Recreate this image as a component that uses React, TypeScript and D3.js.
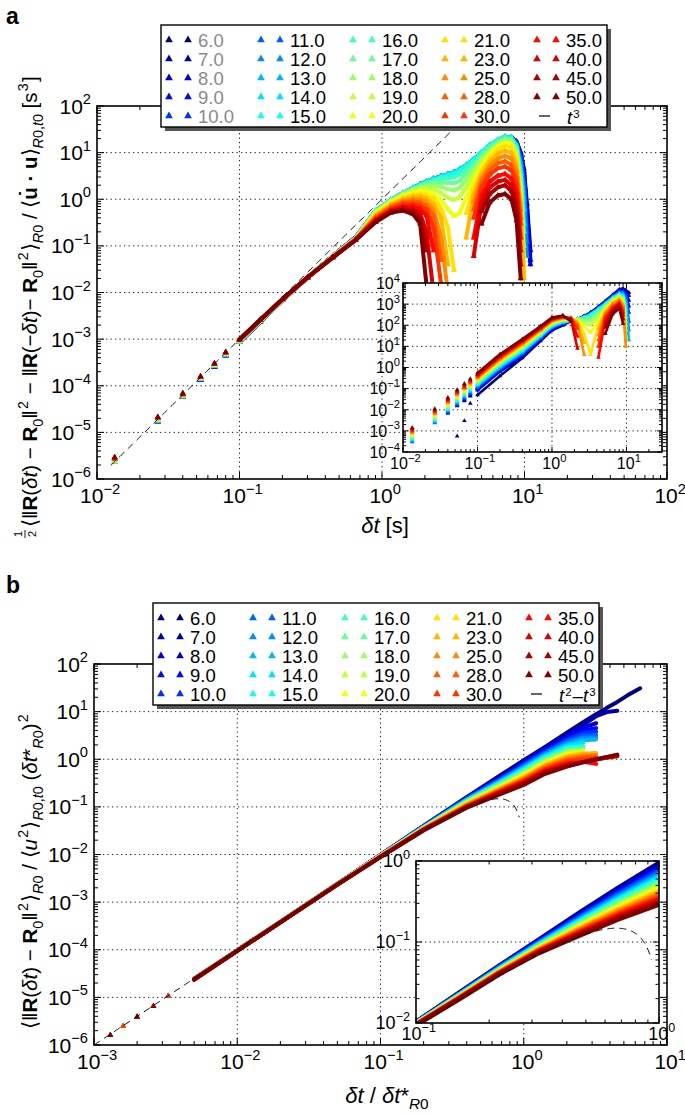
import React from "react";
import * as d3 from "d3";

const FONT = "'Liberation Sans', Arial, Helvetica, sans-serif";
const N = null;
type Row = (number | null)[];

// ---------------- series (R0 values) ----------------
const SERIES = [6, 7, 8, 9, 10, 11, 12, 13, 14, 15, 16, 17, 18, 19, 20, 21, 23, 25, 28, 30, 35, 40, 45, 50];

const clamp01 = (v: number) => Math.max(0, Math.min(1, v));
function jet(t: number) {
  const r = clamp01(1.5 - Math.abs(4 * t - 3));
  const g = clamp01(1.5 - Math.abs(4 * t - 2));
  const b = clamp01(1.5 - Math.abs(4 * t - 1));
  return d3.rgb(r * 255, g * 255, b * 255).formatHex();
}
const COLORS = SERIES.map((_, i) => jet(i / (SERIES.length - 1)));

// ---------------- panel a, main: delta t [s] ----------------
const XA = [0.0133, 0.0267, 0.04, 0.0533, 0.0667, 0.08, 0.1, 0.14, 0.2, 0.3, 0.45, 0.65,
  0.9, 1.15, 1.4, 1.65, 1.85, 2.05, 2.3, 2.6, 2.9, 3.2, 3.5, 3.9, 4.4, 5.0, 5.7, 6.5, 7.3, 8.1, 8.8, 9.4, 9.9, 10.4, 11.0];
const A_EARLY_B = [N, 1.72e-5, 5.7e-5, 1.33e-4, 2.55e-4, 4.45e-4, 8.6e-4, 2.38e-3, 6.8e-3, 0.021, 0.06, 0.15];
const A_EARLY_C = [2.3e-6, 1.78e-5, 5.9e-5, 1.38e-4, 2.65e-4, 4.6e-4, 8.8e-4, 2.42e-3, 6.9e-3, 0.021, 0.059, 0.148];
const A_EARLY_G = [2.5e-6, 1.88e-5, 6.2e-5, 1.45e-4, 2.8e-4, 4.8e-4, 9.2e-4, 2.5e-3, 7.0e-3, 0.021, 0.058, 0.142];
const A_EARLY_O = [2.7e-6, 2.0e-5, 6.5e-5, 1.52e-4, 2.9e-4, 5.0e-4, 9.5e-4, 2.55e-3, 7.1e-3, 0.021, 0.057, 0.137];
const A_EARLY_R = [2.9e-6, 2.1e-5, 6.8e-5, 1.58e-4, 3.0e-4, 5.2e-4, 9.8e-4, 2.6e-3, 7.2e-3, 0.021, 0.056, 0.132];
const A_MAIN: Row[] = [
  [...A_EARLY_B, 0.54, 0.94, 1.3, 1.7, 2.0, 2.3, 2.65, 3.0, 3.3, 3.6, 4.1, 5.1, 6.8, 9.5, 13, 17, 20, 21, 17, 10, 4, 0.6, 0.05], // 6
  [...A_EARLY_B, 0.54, 0.94, 1.3, 1.7, 2.0, 2.3, 2.65, 3.0, 3.3, 3.6, 4.1, 5.1, 6.8, 9.5, 13, 17, 20, 21, 17, 10, 4.5, 0.8, 0.08], // 7
  [...A_EARLY_B, 0.54, 0.94, 1.32, 1.72, 2.0, 2.32, 2.7, 3.05, 3.35, 3.65, 4.2, 5.2, 6.9, 9.6, 13.5, 17.5, 20.5, 21, 16, 9, 3.5, 0.5, 0.04], // 8
  [...A_EARLY_B, 0.55, 0.95, 1.33, 1.73, 2.05, 2.35, 2.7, 3.05, 3.4, 3.7, 4.2, 5.2, 7.0, 9.8, 13.5, 17.5, 21, 21, 16, 9, 3, 0.3, N], // 9
  [...A_EARLY_B, 0.55, 0.95, 1.34, 1.74, 2.05, 2.35, 2.72, 3.08, 3.4, 3.7, 4.25, 5.3, 7.0, 10, 14, 18, 21, 21, 16, 8, 2.5, 0.2, N], // 10
  [...A_EARLY_C, 0.55, 0.96, 1.35, 1.75, 2.06, 2.37, 2.74, 3.1, 3.42, 3.75, 4.3, 5.3, 7.1, 10, 14, 18, 21.5, 21, 15, 7, 2, 0.12, N], // 11
  [...A_EARLY_C, 0.56, 0.96, 1.35, 1.75, 2.07, 2.38, 2.75, 3.1, 3.45, 3.78, 4.3, 5.35, 7.1, 10, 14, 18.5, 22, 21, 15, 6, 1.5, 0.06, N], // 12
  [...A_EARLY_C, 0.56, 0.96, 1.35, 1.75, 2.07, 2.38, 2.75, 3.1, 3.45, 3.8, 4.3, 5.4, 7.2, 10, 14.5, 18.5, 22, 21, 14, 5, 1, N, N], // 13
  [...A_EARLY_C, 0.56, 0.96, 1.35, 1.74, 2.05, 2.35, 2.7, 3.05, 3.4, 3.75, 4.3, 5.4, 7.2, 10.2, 14.5, 19, 22, 21, 14, 4, 0.6, N, N], // 14
  [...A_EARLY_C, 0.56, 0.95, 1.34, 1.72, 2.0, 2.28, 2.6, 2.95, 3.25, 3.5, 4.0, 5.1, 6.9, 10, 14, 18.5, 21.5, 20, 13, 3.5, 0.3, N, N], // 15
  [...A_EARLY_G, 0.55, 0.94, 1.32, 1.68, 1.95, 2.2, 2.45, 2.7, 2.85, 2.95, 3.4, 4.4, 6.2, 9.2, 13, 17.5, 20.5, 19, 12, 3, 0.2, N, N], // 16
  [...A_EARLY_G, 0.54, 0.93, 1.3, 1.64, 1.88, 2.08, 2.25, 2.3, 2.25, 2.2, 2.5, 3.5, 5.2, 8.2, 12, 16.5, 19.5, 18, 11, 2.5, 0.1, N, N], // 17
  [...A_EARLY_G, 0.53, 0.91, 1.27, 1.58, 1.78, 1.92, 1.97, 1.85, 1.65, 1.55, 1.75, 2.6, 4.2, 7.2, 11, 15.5, 18.5, 17, 10, 2, 0.06, N, N], // 18
  [...A_EARLY_G, 0.52, 0.89, 1.23, 1.5, 1.64, 1.72, 1.65, 1.35, 1.08, 0.97, 1.1, 1.8, 3.3, 6.2, 10, 14.5, 17.5, 16, 9, 1.6, 0.04, N, N], // 19
  [...A_EARLY_G, 0.5, 0.86, 1.18, 1.4, 1.48, 1.47, 1.3, 0.95, 0.62, 0.43, 0.5, 1.1, 2.5, 5, 9, 13, 16, 15, 8, 1.2, 0.03, N, N], // 20
  [...A_EARLY_G, 0.47, 0.8, 1.08, 1.25, 1.3, 1.25, 1.05, 0.65, 0.25, 0.03, N, 0.5, 1.8, 4.2, 7.8, 11.5, 14, 13, 7, 1, 0.02, N, N], // 21
  [...A_EARLY_O, 0.45, 0.76, 1.0, 1.13, 1.15, 1.05, 0.8, 0.4, 0.04, N, N, 0.15, 1.3, 3.5, 6.5, 9.5, 11, 10, 5.5, 0.8, 0.02, N, N], // 23
  [...A_EARLY_O, 0.42, 0.7, 0.92, 1.0, 0.98, 0.87, 0.6, 0.15, 0.01, N, N, N, 0.9, 2.8, 5.2, 7.5, 8.5, 7.5, 4, 0.6, N, N, N], // 25
  [...A_EARLY_O, 0.4, 0.66, 0.85, 0.9, 0.85, 0.72, 0.45, 0.05, N, N, N, N, 0.6, 2.3, 4.3, 6, 6.5, 5.5, 3, 0.4, N, N, N], // 28
  [...A_EARLY_O, 0.38, 0.62, 0.78, 0.8, 0.74, 0.6, 0.25, 0.015, N, N, N, N, 0.4, 1.8, 3.4, 4.6, 5, 4.2, 2.2, 0.3, N, N, N], // 30
  [...A_EARLY_R, 0.36, 0.58, 0.7, 0.7, 0.62, 0.45, 0.08, N, N, N, N, N, 0.15, 1.2, 2.4, 3.2, 3.5, 2.8, 1.4, 0.15, N, N, N], // 35
  [...A_EARLY_R, 0.34, 0.55, 0.64, 0.6, 0.5, 0.2, 0.01, N, N, N, N, N, 0.06, 0.85, 1.8, 2.4, 2.6, 2.0, 0.9, 0.08, N, N, N], // 40
  [...A_EARLY_R, 0.33, 0.53, 0.6, 0.54, 0.38, 0.08, N, N, N, N, N, N, N, 0.55, 1.3, 1.8, 2.0, 1.5, 0.6, 0.04, N, N, N], // 45
  [...A_EARLY_R, 0.32, 0.51, 0.57, 0.48, 0.3, 0.015, N, N, N, N, N, N, N, 0.3, 0.85, 1.2, 1.3, 1.0, 0.35, 0.02, N, N, N], // 50
];

// ---------------- panel a, inset ----------------
const XI = [0.0133, 0.0267, 0.04, 0.0533, 0.0667, 0.08, 0.1, 0.2, 0.4, 0.7, 1.0, 1.4,
  1.8, 2.2, 2.7, 3.3, 4.2, 5.2, 6.5, 8.0, 9.0, 9.8, 10.8];
const A_INSET: Row[] = [
  [N, N, N, 5.6e-4, 3e-3, 0.02, 0.05, 0.4, 2.8, 18, 58, 100, 160, 195, 270, 400, 750, 1400, 2700, 5000, 5500, 4500, 3500], // 6
  [N, N, N, N, 0.026, 0.044, 0.084, 0.64, 3.4, 20, 62, 105, 160, 195, 265, 390, 720, 1350, 2600, 4600, 5000, 4000, 2500], // 7
  [N, N, N, 0.015, 0.028, 0.048, 0.092, 0.70, 3.7, 21, 65, 110, 160, 195, 260, 380, 700, 1300, 2500, 4300, 4600, 3500, 1500], // 8
  [N, N, 6.7e-3, 0.016, 0.031, 0.053, 0.10, 0.76, 4.0, 23, 69, 115, 161, 196, 255, 370, 680, 1250, 2400, 4000, 4200, 3000, 800], // 9
  [N, N, 7.3e-3, 0.017, 0.034, 0.057, 0.109, 0.83, 4.4, 24, 74, 121, 162, 196, 250, 360, 660, 1200, 2300, 3800, 3800, 2500, 400], // 10
  [3.0e-4, 2.4e-3, 8.0e-3, 0.019, 0.037, 0.062, 0.118, 0.90, 4.7, 26, 78, 127, 163, 197, 245, 350, 640, 1150, 2200, 3600, 3500, 2000, 150], // 11
  [3.3e-4, 2.6e-3, 8.7e-3, 0.021, 0.040, 0.068, 0.129, 0.98, 5.1, 28, 83, 133, 164, 198, 240, 340, 620, 1100, 2100, 3400, 3200, 1600, 60], // 12
  [3.6e-4, 2.8e-3, 9.4e-3, 0.022, 0.043, 0.074, 0.14, 1.07, 5.6, 30, 88, 139, 165, 199, 238, 330, 600, 1050, 2000, 3200, 2900, 1200, 20], // 13
  [3.9e-4, 3.1e-3, 0.010, 0.024, 0.047, 0.081, 0.153, 1.17, 6.1, 32, 94, 145, 166, 200, 235, 320, 580, 1000, 1950, 3000, 2600, 900, N], // 14
  [4.2e-4, 3.3e-3, 0.011, 0.027, 0.052, 0.088, 0.167, 1.27, 6.7, 34, 99, 152, 168, 200, 230, 305, 550, 960, 1850, 2900, 2300, 600, N], // 15
  [4.6e-4, 3.6e-3, 0.012, 0.029, 0.056, 0.096, 0.18, 1.39, 7.3, 37, 106, 160, 172, 198, 215, 270, 480, 880, 1750, 2700, 2100, 400, N], // 16
  [5.0e-4, 4.0e-3, 0.013, 0.032, 0.061, 0.104, 0.20, 1.5, 7.9, 39, 112, 167, 178, 195, 190, 220, 400, 800, 1650, 2550, 1900, 250, N], // 17
  [5.5e-4, 4.3e-3, 0.0145, 0.034, 0.066, 0.113, 0.215, 1.64, 8.6, 42, 119, 175, 185, 188, 160, 160, 320, 720, 1550, 2400, 1700, 150, N], // 18
  [6.0e-4, 4.7e-3, 0.016, 0.037, 0.072, 0.124, 0.23, 1.8, 9.4, 45, 126, 183, 192, 180, 125, 100, 240, 640, 1450, 2250, 1500, 100, N], // 19
  [6.5e-4, 5.1e-3, 0.017, 0.041, 0.079, 0.135, 0.26, 1.95, 10.2, 48, 134, 192, 200, 170, 85, 45, 160, 560, 1350, 2100, 1300, 60, N], // 20
  [7.1e-4, 5.6e-3, 0.019, 0.045, 0.086, 0.147, 0.28, 2.1, 11.1, 52, 142, 200, 210, 155, 40, 4, 110, 500, 1250, 1950, 1100, 30, N], // 21
  [7.7e-4, 6.1e-3, 0.020, 0.048, 0.094, 0.16, 0.30, 2.3, 12.1, 56, 151, 210, 218, 140, 15, N, 70, 430, 1100, 1750, 950, 20, N], // 23
  [8.4e-4, 6.6e-3, 0.022, 0.053, 0.10, 0.174, 0.33, 2.5, 13.2, 59, 160, 220, 222, 120, 4, N, 35, 360, 950, 1550, 800, 10, N], // 25
  [9.1e-4, 7.2e-3, 0.024, 0.057, 0.11, 0.19, 0.36, 2.7, 14.4, 64, 170, 230, 220, 95, N, N, 20, 300, 820, 1350, 650, N, N], // 28
  [1.0e-3, 7.8e-3, 0.026, 0.063, 0.12, 0.21, 0.39, 3.0, 15.6, 68, 181, 241, 215, 70, N, N, 10, 250, 700, 1150, 520, N, N], // 30
  [1.08e-3, 8.5e-3, 0.029, 0.068, 0.13, 0.22, 0.43, 3.3, 17, 73, 192, 253, 205, 30, N, N, 3, 180, 620, 1100, 400, N, N], // 35
  [1.2e-3, 9.3e-3, 0.031, 0.074, 0.143, 0.24, 0.46, 3.5, 18.5, 78, 204, 265, 190, 8, N, N, N, 130, 520, 950, 300, N, N], // 40
  [1.3e-3, 0.010, 0.034, 0.081, 0.156, 0.27, 0.50, 3.9, 20, 84, 217, 277, 175, N, N, N, N, 80, 420, 800, 200, N, N], // 45
  [1.4e-3, 0.011, 0.037, 0.088, 0.17, 0.29, 0.55, 4.2, 22, 90, 230, 290, 150, N, N, N, N, 40, 330, 620, 120, N, N], // 50
];

// ---------------- panel b, main: delta t / delta t*_R0 ----------------
const XB = [0.0013, 0.0016, 0.002, 0.0026, 0.0033, 0.005, 0.01, 0.02, 0.05,
  0.1, 0.2, 0.4, 0.7, 1.0, 1.4, 2.0, 2.6, 3.2, 3.8, 4.5, 5.3, 6.5];
const B_EARLY_B = [N, N, N, N, 1.07e-5, 2.45e-5, 9.7e-5, 3.85e-4, 2.42e-3];
const B_EARLY_C = [N, 2.5e-6, N, N, 1.06e-5, 2.42e-5, 9.6e-5, 3.8e-4, 2.4e-3];
const B_EARLY_G = [N, N, 3.9e-6, N, N, 2.4e-5, 9.6e-5, 3.8e-4, 2.38e-3];
const B_EARLY_O = [N, 2.5e-6, N, 6.6e-6, 1.05e-5, 2.4e-5, 9.6e-5, 3.8e-4, 2.37e-3];
const B_EARLY_R = [1.62e-6, N, 3.9e-6, 6.5e-6, N, 2.37e-5, 9.5e-5, 3.75e-4, 2.33e-3];
const B_MAIN: Row[] = [
  [...B_EARLY_B, 0.0098, 0.040, 0.16, 0.48, 0.95, 1.8, 3.6, 6.0, 8.8, 12, 16, 22, 31], // 6
  [...B_EARLY_B, 0.0098, 0.040, 0.158, 0.45, 0.90, 1.7, 3.3, 5.3, 8.0, 9.8, 10.4, N, N], // 7
  [...B_EARLY_B, 0.0097, 0.039, 0.155, 0.43, 0.857, 1.6, 3.0, 4.6, 5.7, N, N, N, N], // 8
  [...B_EARLY_B, 0.0097, 0.039, 0.152, 0.418, 0.814, 1.5, 2.8, 4.0, 4.5, N, N, N, N], // 9
  [...B_EARLY_B, 0.0097, 0.039, 0.149, 0.40, 0.773, 1.42, 2.6, 3.5, 3.8, N, N, N, N], // 10
  [...B_EARLY_C, 0.0096, 0.038, 0.146, 0.386, 0.734, 1.35, 2.4, 3.1, 3.25, N, N, N, N], // 11
  [...B_EARLY_C, 0.0096, 0.038, 0.143, 0.371, 0.698, 1.28, 2.2, 2.8, 2.9, N, N, N, N], // 12
  [...B_EARLY_C, 0.0096, 0.038, 0.14, 0.357, 0.662, 1.21, 2.05, 2.5, 2.6, N, N, N, N], // 13
  [...B_EARLY_C, 0.0095, 0.037, 0.137, 0.343, 0.629, 1.14, 1.9, 2.25, N, N, N, N, N], // 14
  [...B_EARLY_C, 0.0095, 0.037, 0.134, 0.33, 0.598, 1.07, 1.75, 1.9, N, N, N, N, N], // 15
  [...B_EARLY_G, 0.0095, 0.037, 0.131, 0.317, 0.567, 1.01, 1.62, 1.75, N, N, N, N, N], // 16
  [...B_EARLY_G, 0.0094, 0.036, 0.128, 0.305, 0.539, 0.96, 1.52, 1.65, N, N, N, N, N], // 17
  [...B_EARLY_G, 0.0094, 0.036, 0.125, 0.293, 0.512, 0.91, 1.43, 1.58, N, N, N, N, N], // 18
  [...B_EARLY_G, 0.0093, 0.036, 0.122, 0.281, 0.486, 0.86, 1.35, 1.5, N, N, N, N, N], // 19
  [...B_EARLY_G, 0.0093, 0.035, 0.119, 0.271, 0.461, 0.82, 1.27, 1.45, N, N, N, N, N], // 20
  [...B_EARLY_G, 0.0092, 0.035, 0.116, 0.26, 0.439, 0.78, 1.2, 1.38, N, N, N, N, N], // 21
  [...B_EARLY_O, 0.0092, 0.035, 0.113, 0.25, 0.416, 0.74, 1.13, 1.3, 1.35, N, N, N, N], // 23
  [...B_EARLY_O, 0.0091, 0.034, 0.11, 0.24, 0.395, 0.70, 1.05, 1.2, 1.25, N, N, N, N], // 25
  [...B_EARLY_O, 0.0091, 0.034, 0.107, 0.231, 0.375, 0.66, 0.98, 1.1, 1.15, N, N, N, N], // 28
  [...B_EARLY_O, 0.009, 0.034, 0.104, 0.222, 0.357, 0.62, 0.9, 1.0, 1.05, N, N, N, N], // 30
  [...B_EARLY_R, 0.009, 0.033, 0.102, 0.214, 0.338, 0.58, 0.82, 0.88, 0.8, N, N, N, N], // 35
  [...B_EARLY_R, 0.0089, 0.033, 0.1, 0.205, 0.322, 0.55, 0.76, 0.88, 0.98, 1.08, 1.15, N, N], // 40
  [...B_EARLY_R, 0.0089, 0.033, 0.098, 0.197, 0.305, 0.52, 0.72, 0.87, 1.0, 1.1, 1.2, N, N], // 45
  [...B_EARLY_R, 0.0088, 0.032, 0.096, 0.19, 0.29, 0.49, 0.7, 0.86, 1.0, 1.12, 1.25, N, N], // 50
];

// ---------------- panel b, inset ----------------
const XBI = [0.1, 0.15, 0.22, 0.32, 0.47, 0.68, 1.0];
const B_INSET: Row[] = [
  [0.0103, 0.0235, 0.051, 0.107, 0.23, 0.47, 0.95], // 6
  [0.0103, 0.0233, 0.0505, 0.1052, 0.2236, 0.452, 0.90], // 7
  [0.0102, 0.0231, 0.050, 0.1035, 0.2174, 0.434, 0.857], // 8
  [0.0102, 0.0229, 0.0494, 0.1018, 0.2114, 0.418, 0.814], // 9
  [0.0101, 0.0228, 0.0489, 0.1001, 0.2055, 0.401, 0.773], // 10
  [0.0101, 0.0226, 0.0484, 0.0985, 0.1997, 0.386, 0.734], // 11
  [0.0101, 0.0224, 0.0479, 0.0968, 0.1942, 0.371, 0.698], // 12
  [0.0100, 0.0222, 0.0474, 0.0952, 0.1887, 0.357, 0.662], // 13
  [0.0100, 0.0221, 0.0469, 0.0937, 0.1834, 0.343, 0.629], // 14
  [0.0099, 0.0219, 0.0464, 0.0921, 0.1783, 0.330, 0.598], // 15
  [0.0099, 0.0217, 0.0459, 0.0906, 0.1733, 0.317, 0.567], // 16
  [0.0099, 0.0215, 0.0454, 0.0891, 0.1685, 0.305, 0.539], // 17
  [0.0098, 0.0214, 0.0449, 0.0876, 0.1638, 0.293, 0.512], // 18
  [0.0098, 0.0212, 0.0444, 0.0862, 0.1592, 0.281, 0.486], // 19
  [0.0098, 0.0210, 0.0439, 0.0848, 0.1548, 0.271, 0.461], // 20
  [0.0097, 0.0209, 0.0435, 0.0834, 0.1505, 0.260, 0.439], // 21
  [0.0097, 0.0207, 0.0430, 0.0820, 0.1463, 0.250, 0.416], // 23
  [0.0096, 0.0205, 0.0426, 0.0807, 0.1422, 0.240, 0.395], // 25
  [0.0096, 0.0204, 0.0421, 0.0793, 0.1382, 0.231, 0.375], // 28
  [0.0096, 0.0202, 0.0417, 0.0780, 0.1343, 0.222, 0.357], // 30
  [0.0095, 0.0200, 0.0413, 0.0768, 0.1306, 0.214, 0.338], // 35
  [0.0095, 0.0199, 0.0408, 0.0755, 0.1269, 0.205, 0.322], // 40
  [0.0094, 0.0197, 0.0404, 0.0742, 0.1234, 0.197, 0.305], // 45
  [0.0094, 0.0195, 0.0400, 0.0730, 0.1200, 0.190, 0.290], // 50
];

// ---------------- helpers ----------------
function logTicks(domain: [number, number]) {
  const [a, b] = domain;
  const majors: number[] = [];
  const minors: number[] = [];
  for (let k = Math.floor(Math.log10(a)); k <= Math.ceil(Math.log10(b)); k++) {
    for (let m = 1; m <= 9; m++) {
      const v = m * Math.pow(10, k);
      if (v < a * 0.9999 || v > b * 1.0001) continue;
      (m === 1 ? majors : minors).push(v);
    }
  }
  return { majors, minors };
}

function Pow({ x, y, v, size, anchor }: any) {
  const e = Math.round(Math.log10(v));
  return (
    <text x={x} y={y} fontSize={size} textAnchor={anchor} fill="#000">
      10<tspan dy={-size * 0.45} fontSize={size * 0.7}>{e < 0 ? "\u2212" + -e : String(e)}</tspan>
    </text>
  );
}

type Seg = { t: string; b?: boolean; i?: boolean; s?: "sub" | "sup" };
function Rich({ segs, size, supRaise = 0.42, supScale = 0.7 }: { segs: Seg[]; size: number; supRaise?: number; supScale?: number }) {
  let shift = 0;
  let prevSup = false;
  return (
    <>
      {segs.map((sg, k) => {
        const target = sg.s === "sub" ? size * 0.28 : sg.s === "sup" ? -size * supRaise : 0;
        const dy = target - shift;
        shift = target;
        const dx = sg.s === "sup" || prevSup ? size * 0.06 : 0;
        prevSup = sg.s === "sup";
        return (
          <tspan key={k} dy={dy} dx={dx} fontSize={sg.s === "sup" ? size * supScale : sg.s ? size * 0.7 : size}
            fontWeight={sg.b ? "bold" : "normal"} fontStyle={sg.i ? "italic" : "normal"}>{sg.t}</tspan>
        );
      })}
    </>
  );
}

function Plot(p: any) {
  const sx = d3.scaleLog().domain(p.xDomain).range([p.left, p.right]);
  const sy = d3.scaleLog().domain(p.yDomain).range([p.bottom, p.top]);
  const xt = logTicks(p.xDomain);
  const yt = logTicks(p.yDomain);
  const tri = d3.symbol(d3.symbolTriangle, p.markerSize)() as string;
  const line = d3.line<[number, number | null]>()
    .defined((d) => d[1] != null)
    .x((d) => sx(d[0]))
    .y((d) => sy(d[1] as number));
  const refLine = d3.line<[number, number]>().x((d) => sx(d[0])).y((d) => sy(d[1]));
  let refPts: [number, number][] = [];
  if (p.ref) {
    const { from, to, fn } = p.ref;
    refPts = d3.range(0, 401).map((k) => {
      const x = from * Math.pow(to / from, k / 400);
      return [x, fn(x)] as [number, number];
    }).filter((d) => d[1] > 0);
  }
  const clipId = "clip-" + p.id;
  const W = p.right - p.left;
  const H = p.bottom - p.top;
  const tick = (x1: number, y1: number, x2: number, y2: number, k: string) => (
    <line key={k} x1={x1} y1={y1} x2={x2} y2={y2} stroke="#000" strokeWidth={1} />
  );
  return (
    <g>
      <defs>
        <clipPath id={clipId}><rect x={p.left} y={p.top} width={W} height={H} /></clipPath>
      </defs>
      <rect x={p.left} y={p.top} width={W} height={H} fill="#fff" />
      {/* grid */}
      <g stroke="#222" strokeWidth={1} strokeDasharray="1.3,3.2">
        {xt.majors.filter((v) => sx(v) > p.left + 1 && sx(v) < p.right - 1).map((v) => (
          <line key={"gx" + v} x1={sx(v)} x2={sx(v)} y1={p.top} y2={p.bottom} />
        ))}
        {yt.majors.filter((v) => sy(v) < p.bottom - 1 && sy(v) > p.top + 1).map((v) => (
          <line key={"gy" + v} x1={p.left} x2={p.right} y1={sy(v)} y2={sy(v)} />
        ))}
      </g>
      {/* series */}
      <g clipPath={`url(#${clipId})`}>
        {p.rows.map((row: Row, i: number) => {
          const pts = p.xs.map((x: number, j: number) => [x, row[j] ?? null]) as [number, number | null][];
          const lp = pts.filter((d) => d[0] >= p.lineFrom);
          const mp = pts.filter((d) => d[1] != null && d[0] <= p.markerUntil);
          return (
            <g key={i}>
              <path d={line(lp) || ""} fill="none" stroke={COLORS[i]} strokeWidth={p.lineWidth}
                strokeLinejoin="round" strokeLinecap="round" />
              {mp.map((d, j) => (
                <path key={j} d={tri} fill={COLORS[i]}
                  transform={`translate(${sx(d[0])},${sy(d[1] as number)})`} />
              ))}
            </g>
          );
        })}
        {p.ref && (
          <path d={refLine(refPts) || ""} fill="none" stroke="#000" strokeWidth={1}
            strokeDasharray="7,5" />
        )}
      </g>
      {/* frame */}
      <rect x={p.left} y={p.top} width={W} height={H} fill="none" stroke="#000" strokeWidth={1.6} />
      {/* ticks */}
      <g>
        {xt.majors.map((v) => [
          tick(sx(v), p.bottom, sx(v), p.bottom - p.majorLen, "xb" + v),
          tick(sx(v), p.top, sx(v), p.top + p.majorLen, "xt" + v),
        ])}
        {xt.minors.map((v) => [
          tick(sx(v), p.bottom, sx(v), p.bottom - p.minorLen, "xbm" + v),
          tick(sx(v), p.top, sx(v), p.top + p.minorLen, "xtm" + v),
        ])}
        {yt.majors.map((v) => [
          tick(p.left, sy(v), p.left + p.majorLen, sy(v), "yl" + v),
          tick(p.right, sy(v), p.right - p.majorLen, sy(v), "yr" + v),
        ])}
        {yt.minors.map((v) => [
          tick(p.left, sy(v), p.left + p.minorLen, sy(v), "ylm" + v),
          tick(p.right, sy(v), p.right - p.minorLen, sy(v), "yrm" + v),
        ])}
      </g>
      {/* tick labels */}
      <g fontFamily={FONT}>
        {xt.majors.map((v) => (
          <Pow key={"lx" + v} x={sx(v) + p.labelSize * 0.15} y={p.bottom + p.xLabelOffset} v={v} size={p.labelSize} anchor="middle" />
        ))}
        {yt.majors.map((v) => (
          <Pow key={"ly" + v} x={p.left - p.yLabelGap} y={sy(v) + p.labelSize * 0.36} v={v} size={p.labelSize} anchor="end" />
        ))}
      </g>
    </g>
  );
}

function Legend({ x, y, grayFirst, lineLabel }: any) {
  const w = 446;
  const h = 102;
  const pitch = 92;
  const tri = d3.symbol(d3.symbolTriangle, 26)() as string;
  const cyL = y + 15 + 4 * 19;
  const bxL = x + 4 * pitch;
  return (
    <g fontFamily={FONT}>
      <rect x={x + 4} y={y + 4} width={w} height={h} fill="#555" />
      <rect x={x} y={y} width={w} height={h} fill="#fff" stroke="#000" strokeWidth={1.4} />
      {SERIES.map((s, i) => {
        const col = Math.floor(i / 5);
        const row = i % 5;
        const cy = y + 15 + row * 19;
        const bx = x + col * pitch;
        return (
          <g key={s}>
            <path d={tri} fill={COLORS[i]} transform={`translate(${bx + 8},${cy})`} />
            <path d={tri} fill={COLORS[i]} transform={`translate(${bx + 27},${cy})`} />
            <text x={bx + 37} y={cy + 6.5} fontSize={18.5} fill={grayFirst && col === 0 ? "#8a8a8a" : "#000"}>
              {s.toFixed(1)}
            </text>
          </g>
        );
      })}
      <line x1={bxL + 10} x2={bxL + 21} y1={cyL} y2={cyL} stroke="#000" strokeWidth={1.2} />
      <text x={bxL + 38} y={cyL + 7.5} fontSize={18.5} fill="#000">
        <Rich segs={lineLabel} size={18.5} supRaise={0.3} supScale={0.62} />
      </text>
    </g>
  );
}

const TITLE_A: Seg[] = [
  { t: "\u27E8\u2016" }, { t: "R", b: true }, { t: "(" }, { t: "\u03B4t", i: true }, { t: ") \u2212 " },
  { t: "R", b: true }, { t: "0", s: "sub" }, { t: "\u2016" }, { t: "2", s: "sup" }, { t: " \u2212 \u2016" },
  { t: "R", b: true }, { t: "(\u2212" }, { t: "\u03B4t", i: true }, { t: ")\u2212 " },
  { t: "R", b: true }, { t: "0", s: "sub" }, { t: "\u2016" }, { t: "2", s: "sup" }, { t: "\u27E9" },
  { t: "R", i: true, s: "sub" }, { t: "0", s: "sub" }, { t: " / \u27E8" }, { t: "u\u0307 \u00B7 u", b: true },
  { t: "\u27E9" }, { t: "R", i: true, s: "sub" }, { t: "0", s: "sub" }, { t: ",", s: "sub" }, { t: "t", i: true, s: "sub" },
  { t: "0", s: "sub" }, { t: " [s" }, { t: "3", s: "sup" }, { t: "]" },
];
const TITLE_B: Seg[] = [
  { t: "\u27E8\u2016" }, { t: "R", b: true }, { t: "(" }, { t: "\u03B4t", i: true }, { t: ") \u2212 " },
  { t: "R", b: true }, { t: "0", s: "sub" }, { t: "\u2016" }, { t: "2", s: "sup" }, { t: "\u27E9" },
  { t: "R", i: true, s: "sub" }, { t: "0", s: "sub" }, { t: " / \u27E8" }, { t: "u", i: true }, { t: "2", s: "sup" },
  { t: "\u27E9" }, { t: "R", i: true, s: "sub" }, { t: "0", s: "sub" }, { t: ",", s: "sub" }, { t: "t", i: true, s: "sub" },
  { t: "0", s: "sub" }, { t: " (" }, { t: "\u03B4t", i: true }, { t: "*" }, { t: "R", i: true, s: "sub" },
  { t: "0", s: "sub" }, { t: ")" }, { t: "2", s: "sup" },
];
const XTITLE_A: Seg[] = [{ t: "\u03B4t", i: true }, { t: " [s]" }];
const XTITLE_B: Seg[] = [
  { t: "\u03B4t", i: true }, { t: " / " }, { t: "\u03B4t", i: true }, { t: "*" },
  { t: "R", i: true, s: "sub" }, { t: "0", s: "sub" },
];
const LEG_A: Seg[] = [{ t: "t", i: true }, { t: "3", s: "sup" }];
const LEG_B: Seg[] = [{ t: "t", i: true }, { t: "2", s: "sup" }, { t: "\u2013" }, { t: "t", i: true }, { t: "3", s: "sup" }];

export default function App() {
  return (
    <svg width={685} height={1117} style={{ position: "absolute", left: 0, top: 0, display: "block" }}
      fontFamily={FONT}>
      <rect width={685} height={1117} fill="#fff" />

      {/* ---------- panel a ---------- */}
      <Plot id="am" left={97} right={667} top={106} bottom={479}
        xDomain={[1e-2, 1e2]} yDomain={[1e-6, 1e2]} xs={XA} rows={A_MAIN}
        lineWidth={4} markerSize={16} lineFrom={0.09} markerUntil={Infinity}
        ref={{ from: 0.0125, to: 5, fn: (x: number) => x * x * x }}
        labelSize={21} majorLen={7} minorLen={4} xLabelOffset={24} yLabelGap={6} />
      <Plot id="ai" left={403} right={662} top={283} bottom={452}
        xDomain={[1e-2, 30]} yDomain={[1e-4, 1e4]} xs={XI} rows={A_INSET}
        lineWidth={2.6} markerSize={9} lineFrom={0.09} markerUntil={Infinity}
        labelSize={16} majorLen={5} minorLen={3} xLabelOffset={17} yLabelGap={3} />
      <Legend x={161} y={25} grayFirst={true} lineLabel={LEG_A} />
      <text x={6} y={24} fontSize={23} fontWeight="bold" fontFamily={FONT}>a</text>
      <text x={385} y={533} fontSize={22} textAnchor="middle" fontFamily={FONT}>
        <Rich segs={XTITLE_A} size={22} />
      </text>
      <g transform="translate(37,538) rotate(-90)" fontFamily={FONT}>
        <text x={4} y={-15} fontSize={11} textAnchor="middle">1</text>
        <line x1={0} x2={8} y1={-12} y2={-12} stroke="#000" strokeWidth={0.9} />
        <text x={4} y={-1} fontSize={11} textAnchor="middle">2</text>
        <text x={11} y={0} fontSize={20.5}>
          <Rich segs={TITLE_A} size={20.5} />
        </text>
      </g>

      {/* ---------- panel b ---------- */}
      <Plot id="bm" left={94} right={667} top={664} bottom={1045}
        xDomain={[1e-3, 1e1]} yDomain={[1e-6, 1e2]} xs={XB} rows={B_MAIN}
        lineWidth={4} markerSize={14} lineFrom={0.005} markerUntil={0.0045}
        ref={{ from: 1e-3, to: 0.93, fn: (x: number) => x * x - x * x * x }}
        labelSize={21} majorLen={7} minorLen={4} xLabelOffset={24} yLabelGap={6} />
      <Plot id="bi" left={416} right={659} top={861} bottom={1023}
        xDomain={[0.1, 1]} yDomain={[1e-2, 1]} xs={XBI} rows={B_INSET}
        lineWidth={4.5} markerSize={0} lineFrom={0} markerUntil={-1}
        ref={{ from: 0.1, to: 0.93, fn: (x: number) => x * x - x * x * x }}
        labelSize={18} majorLen={6} minorLen={3.5} xLabelOffset={17} yLabelGap={6} />
      <Legend x={153} y={603} grayFirst={false} lineLabel={LEG_B} />
      <text x={6} y={593} fontSize={23} fontWeight="bold" fontFamily={FONT}>b</text>
      <text x={387} y={1103} fontSize={22} textAnchor="middle" fontFamily={FONT}>
        <Rich segs={XTITLE_B} size={22} />
      </text>
      <g transform="translate(37,1029) rotate(-90)" fontFamily={FONT}>
        <text x={0} y={0} fontSize={20.5}>
          <Rich segs={TITLE_B} size={20.5} />
        </text>
      </g>
    </svg>
  );
}
